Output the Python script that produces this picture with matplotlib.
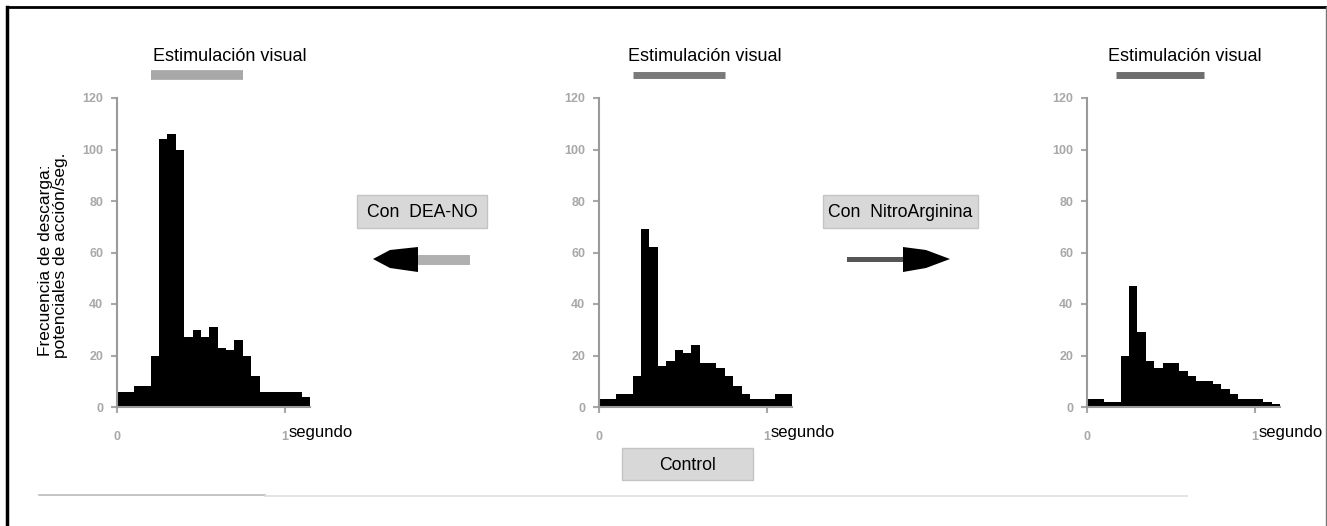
import numpy as np
import matplotlib.pyplot as plt
from matplotlib.patches import Rectangle, Polygon
from matplotlib.lines import Line2D

plt.rcParams['font.family'] = ['Liberation Sans', 'DejaVu Sans']

W, H = 1327, 526

# bin width 0.05 s, 23 bins per histogram
bin_width = 0.05
n_bins = 23

# firing rate per bin (spikes/s)
rate_dea_no = [6, 6, 8, 8, 20, 104, 106, 100, 27, 30, 27, 31, 23, 22, 26, 20, 12, 6, 6, 6, 6, 6, 4]
rate_control = [3, 3, 5, 5, 12, 69, 62, 16, 18, 22, 21, 24, 17, 17, 15, 12, 8, 5, 3, 3, 3, 5, 5]
rate_nitro = [3, 3, 2, 2, 20, 47, 29, 18, 15, 17, 17, 14, 12, 10, 10, 9, 7, 5, 3, 3, 3, 2, 1]

# visual stimulation interval (s) per panel
stim_dea_no = (0.20, 0.75)
stim_control = (0.20, 0.75)
stim_nitro = (0.17, 0.70)

y_ticks = [0, 20, 40, 60, 80, 100, 120]
x_ticks = [0, 1]
x_tick_labels = ['0', '1']


def fx(px):
    return px / W


def fy(py):
    return 1 - py / H


fig = plt.figure(figsize=(W / 100, H / 100), dpi=100)

panels = [
    (117, rate_dea_no, stim_dea_no, 0.673, '#a8a8a8', 7),
    (599, rate_control, stim_control, 0.632, '#7a7a7a', 5),
    (1087, rate_nitro, stim_nitro, 0.584, '#6e6e6e', 5),
]

for left_px, rates, stim, title_x, stim_color, stim_lw in panels:
    ax = fig.add_axes([fx(left_px), fy(407), 193 / W, 309 / H])
    edges = np.arange(n_bins) * bin_width
    ax.bar(edges, rates, width=bin_width, align='edge', color='black', linewidth=0)
    ax.set_xlim(0, n_bins * bin_width)
    ax.set_ylim(0, 120)
    ax.set_yticks(y_ticks)
    ax.set_xticks(x_ticks)
    ax.set_xticklabels(x_tick_labels)
    ax.tick_params(colors='#a8a8a8', labelcolor='#a8a8a8', labelsize=9, length=4, width=1.5)
    for lab in ax.get_yticklabels() + ax.get_xticklabels():
        lab.set_fontweight('bold')
    ax.tick_params(axis='x', pad=13)
    ax.tick_params(axis='y', pad=6)
    for s in ['top', 'right']:
        ax.spines[s].set_visible(False)
    for s in ['left', 'bottom']:
        ax.spines[s].set_color('#9a9a9a')
        ax.spines[s].set_linewidth(1.5)
    ax.patch.set_alpha(0)
    tr = ax.get_xaxis_transform()
    ax.plot(stim, [1.074, 1.074], color=stim_color, lw=stim_lw, transform=tr,
            clip_on=False, solid_capstyle='butt')
    ax.text(title_x, 1.135, 'Estimulación visual', transform=tr, ha='center', va='center',
            fontsize=13, color='black')
    ax.text(1.02, -0.081, 'segundo', transform=tr, ha='left', va='center',
            fontsize=12, color='black')

# y label (two lines, starting at the same height)
fig.text(fx(46), fy(356), 'Frecuencia de descarga:', rotation=90, ha='center', va='bottom',
         fontsize=12.5)
fig.text(fx(61), fy(358), 'potenciales de acción/seg.', rotation=90, ha='center', va='bottom',
         fontsize=12.5)


def box(x0, y0, x1, y1, label, size=12.7):
    fig.patches.append(Rectangle((fx(x0), fy(y1)), fx(x1) - fx(x0), fy(y0) - fy(y1),
                                 transform=fig.transFigure, facecolor='#d8d8d8',
                                 edgecolor='#c4c4c4', lw=1))
    fig.text(fx((x0 + x1) / 2), fy((y0 + y1) / 2 + 1), label, ha='center', va='center',
             fontsize=size)


box(357, 195, 487, 228, 'Con  DEA-NO')
box(823, 195, 978, 228, 'Con  NitroArginina')
box(622, 448, 753, 480, 'Control')


def poly(points, color):
    fig.patches.append(Polygon([(fx(a), fy(b)) for a, b in points], closed=True,
                               transform=fig.transFigure, facecolor=color, edgecolor='none'))


# left arrow (towards DEA-NO panel)
poly([(418, 255), (470, 255), (470, 265), (418, 265)], '#b0b0b0')
poly([(373, 259), (390, 250), (418, 247), (418, 272), (390, 268)], 'black')
# right arrow (towards NitroArginina panel)
poly([(847, 257), (905, 257), (905, 262), (847, 262)], '#555555')
poly([(903, 247), (926, 250), (950, 259), (926, 268), (903, 272)], 'black')

# frame and bottom rule
fig.add_artist(Line2D([fx(7), fx(7)], [fy(7), 0], color='black', lw=2.5))
fig.add_artist(Line2D([fx(7), fx(1327)], [fy(7), fy(7)], color='black', lw=2))
fig.add_artist(Line2D([fx(1325.5), fx(1325.5)], [fy(7), 0], color='#777777', lw=1))
fig.add_artist(Line2D([fx(39), fx(265)], [fy(495), fy(495)], color='#bbbbbb', lw=1.2))
fig.add_artist(Line2D([fx(265), fx(1187)], [fy(496), fy(496)], color='#dedede', lw=1.2))

fig.savefig('out.png', dpi=100)
